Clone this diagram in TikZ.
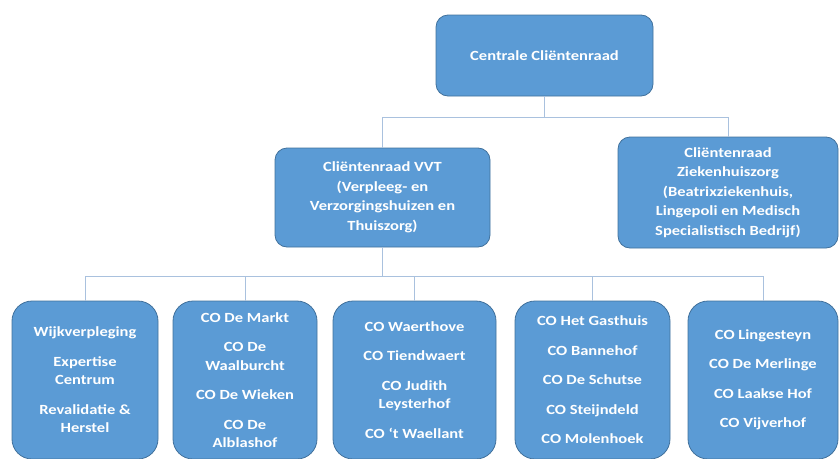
\documentclass[tikz,border=0pt]{standalone}
\usepackage{fontspec}
\setmainfont{Carlito}[FakeStretch=1.18]
\usetikzlibrary{positioning}
\definecolor{BoxBlue}{HTML}{5B9BD5}
\definecolor{BoxEdge}{HTML}{41719C}
\definecolor{LinkBlue}{HTML}{A9C1DE}

\begin{document}
\begin{tikzpicture}[x=1pt,y=-1pt,
    unit/.style={rectangle,rounded corners=12pt,draw=BoxEdge,fill=BoxBlue,line width=0.8pt,text=white,align=center,inner sep=0pt,font=\fontsize{14}{19.5}\selectfont\bfseries},
    site/.style={unit,rounded corners=20pt,minimum height=158pt,font=\fontsize{14}{18.5}\selectfont\bfseries},
    link/.style={draw=LinkBlue,line width=0.9pt}]
    \useasboundingbox (0,0) rectangle (840,458);
    \node[unit,minimum width=217pt,minimum height=81pt] (top) at (544.5,55.5) {Centrale Cliëntenraad};
    \node[unit,minimum width=215pt,minimum height=99pt] (vvt) at (382.5,197.5) {Cliëntenraad VVT\\(Verpleeg- en\\Verzorgingshuizen en\\Thuiszorg)};
    \node[unit,minimum width=220pt,minimum height=111pt] (zkh) at (728,192.5) {Cliëntenraad\\Ziekenhuiszorg\\(Beatrixziekenhuis,\\Lingepoli en Medisch\\Specialistisch Bedrijf)};
    \node[site,minimum width=146pt] (b1) at (85,380) {Wijkverpleging\\[11pt]Expertise\\Centrum\\[11pt]Revalidatie \&\\Herstel};
    \node[site,minimum width=144pt] (b2) at (245,380) {CO De Markt\\[11pt]CO De\\Waalburcht\\[11pt]CO De Wieken\\[11pt]CO De\\Alblashof};
    \node[site,minimum width=163pt] (b3) at (414.5,380) {CO Waerthove\\[11pt]CO Tiendwaert\\[11pt]CO Judith\\Leysterhof\\[11pt]CO ‘t Waellant};
    \node[site,minimum width=155pt] (b4) at (592.5,380) {CO Het Gasthuis\\[11pt]CO Bannehof\\[11pt]CO De Schutse\\[11pt]CO Steijndeld\\[11pt]CO Molenhoek};
    \node[site,minimum width=150pt] (b5) at (763,380) {CO Lingesteyn\\[11pt]CO De Merlinge\\[11pt]CO Laakse Hof\\[11pt]CO Vijverhof};
    \draw[link] (top.south) -- ++(0,21) -| (vvt.north);
    \draw[link] (top.south) -- ++(0,21) -| (zkh.north);
    \foreach \b in {b1,b2,b3,b4,b5}
      \draw[link] (vvt.south) -- ++(0,29) -| (\b.north);
  \end{tikzpicture}
\end{document}
